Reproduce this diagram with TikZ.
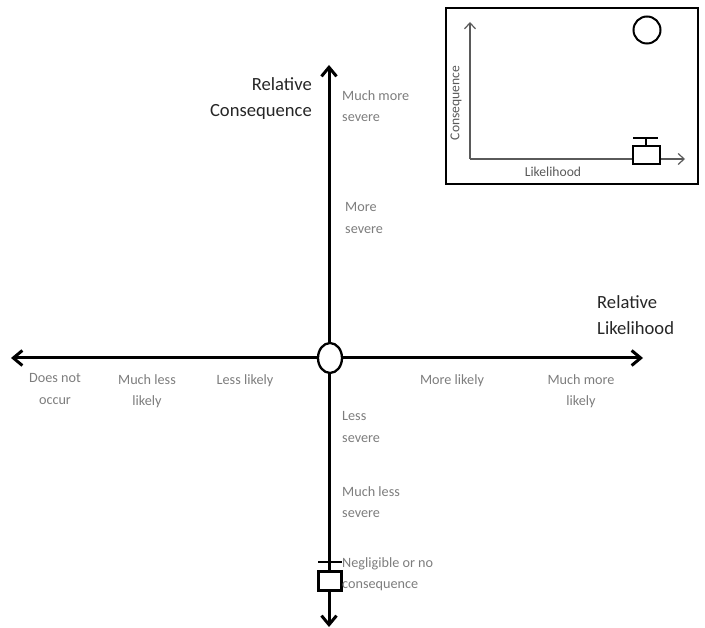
\documentclass[tikz,border=0pt]{standalone}
\usepackage{fontspec}
\setmainfont{Carlito}
\usetikzlibrary{arrows.meta,shapes.geometric}
\definecolor{lab}{RGB}{125,125,125}
\definecolor{insetax}{RGB}{90,90,90}
\tikzset{
  x=1pt,y=-1pt,
  axisline/.style={line width=3pt,black,{Straight Barb[length=9pt,width=15pt,line width=3pt]}-{Straight Barb[length=9pt,width=15pt,line width=3pt]}},
  glyph/.style={draw=black,fill=white,line width=2.3pt,inner sep=0pt,minimum width=0pt},
  lbl/.style={text=lab,font=\fontsize{14.2}{21.5}\selectfont,align=center,inner sep=0pt},
  lbll/.style={lbl,align=left,anchor=west},
  head/.style={text=black!85,font=\fontsize{18.6}{26}\selectfont,inner sep=0pt},
  insetaxis/.style={draw=insetax,line width=1.4pt,-{Straight Barb[length=6pt,width=11pt,line width=1.2pt]}},
  insetlbl/.style={text=black!65,font=\fontsize{13.6}{15}\selectfont,inner sep=0pt},
}
\begin{document}
\begin{tikzpicture}
\useasboundingbox (0,0) rectangle (705,628);
% main axes
\coordinate (top) at (329,65);
\coordinate (bottom) at (329,627);
\coordinate (left) at (11,358);
\coordinate (right) at (643,358);
\draw[axisline] (bottom) -- (top);
\draw[axisline] (left) -- (right);
\node[glyph,ellipse,minimum width=24pt,minimum height=30pt] (origin) at (330,358) {};
% lower symbol
\node[glyph,rectangle,minimum width=23pt,minimum height=19pt] (lowbox) at (330,581) {};
\coordinate (lowa) at (318,562);
\coordinate (lowb) at (342,562);
\draw[black,line width=2pt] (lowa) -- (lowb);
% headings
\node[head,align=right,anchor=east] (relc) at (312,99) {Relative\\Consequence};
\node[head,align=left,anchor=west] (rell) at (597,315) {Relative\\Likelihood};
% vertical labels
\node[lbll] (ms) at (342,106) {Much more\\severe};
\node[lbll] (s) at (345,218) {More\\severe};
\node[lbll] (ls) at (342,427) {Less\\severe};
\node[lbll] (mls) at (342,502) {Much less\\severe};
\node[lbll] (neg) at (342,574) {Negligible or no\\consequence};
% horizontal labels
\node[lbl] (dno) at (55,389) {Does not\\occur};
\node[lbl] (mll) at (147,391) {Much less\\likely};
\node[lbl] (ll) at (245,381) {Less likely};
\node[lbl] (ml) at (452,381) {More likely};
\node[lbl] (mml) at (581,391) {Much more\\likely};
% inset
\node[draw=black,line width=2pt,minimum width=252pt,minimum height=176pt,inner sep=0pt] (inset) at (572,96) {};
\coordinate (io) at (470,159);
\coordinate (iy) at (470,22);
\coordinate (ix) at (685,159);
\draw[insetaxis] (io) -- (iy);
\draw[insetaxis] (io) -- (ix);
\node[insetlbl,rotate=90] (ic) at (456,103) {Consequence};
\node[insetlbl] (il) at (553,172) {Likelihood};
\node[glyph,circle,minimum size=27pt,line width=2pt] (icirc) at (647,30) {};
\node[glyph,rectangle,minimum width=27pt,minimum height=18pt,line width=2pt] (ibox) at (646,155) {};
\coordinate (ibara) at (633,138);
\coordinate (ibarb) at (658,138);
\coordinate (istem) at (646,138);
\draw[black,line width=1.8pt] (ibara) -- (ibarb);
\draw[black,line width=1.6pt] (istem) -- (ibox.north);
\end{tikzpicture}
\end{document}
